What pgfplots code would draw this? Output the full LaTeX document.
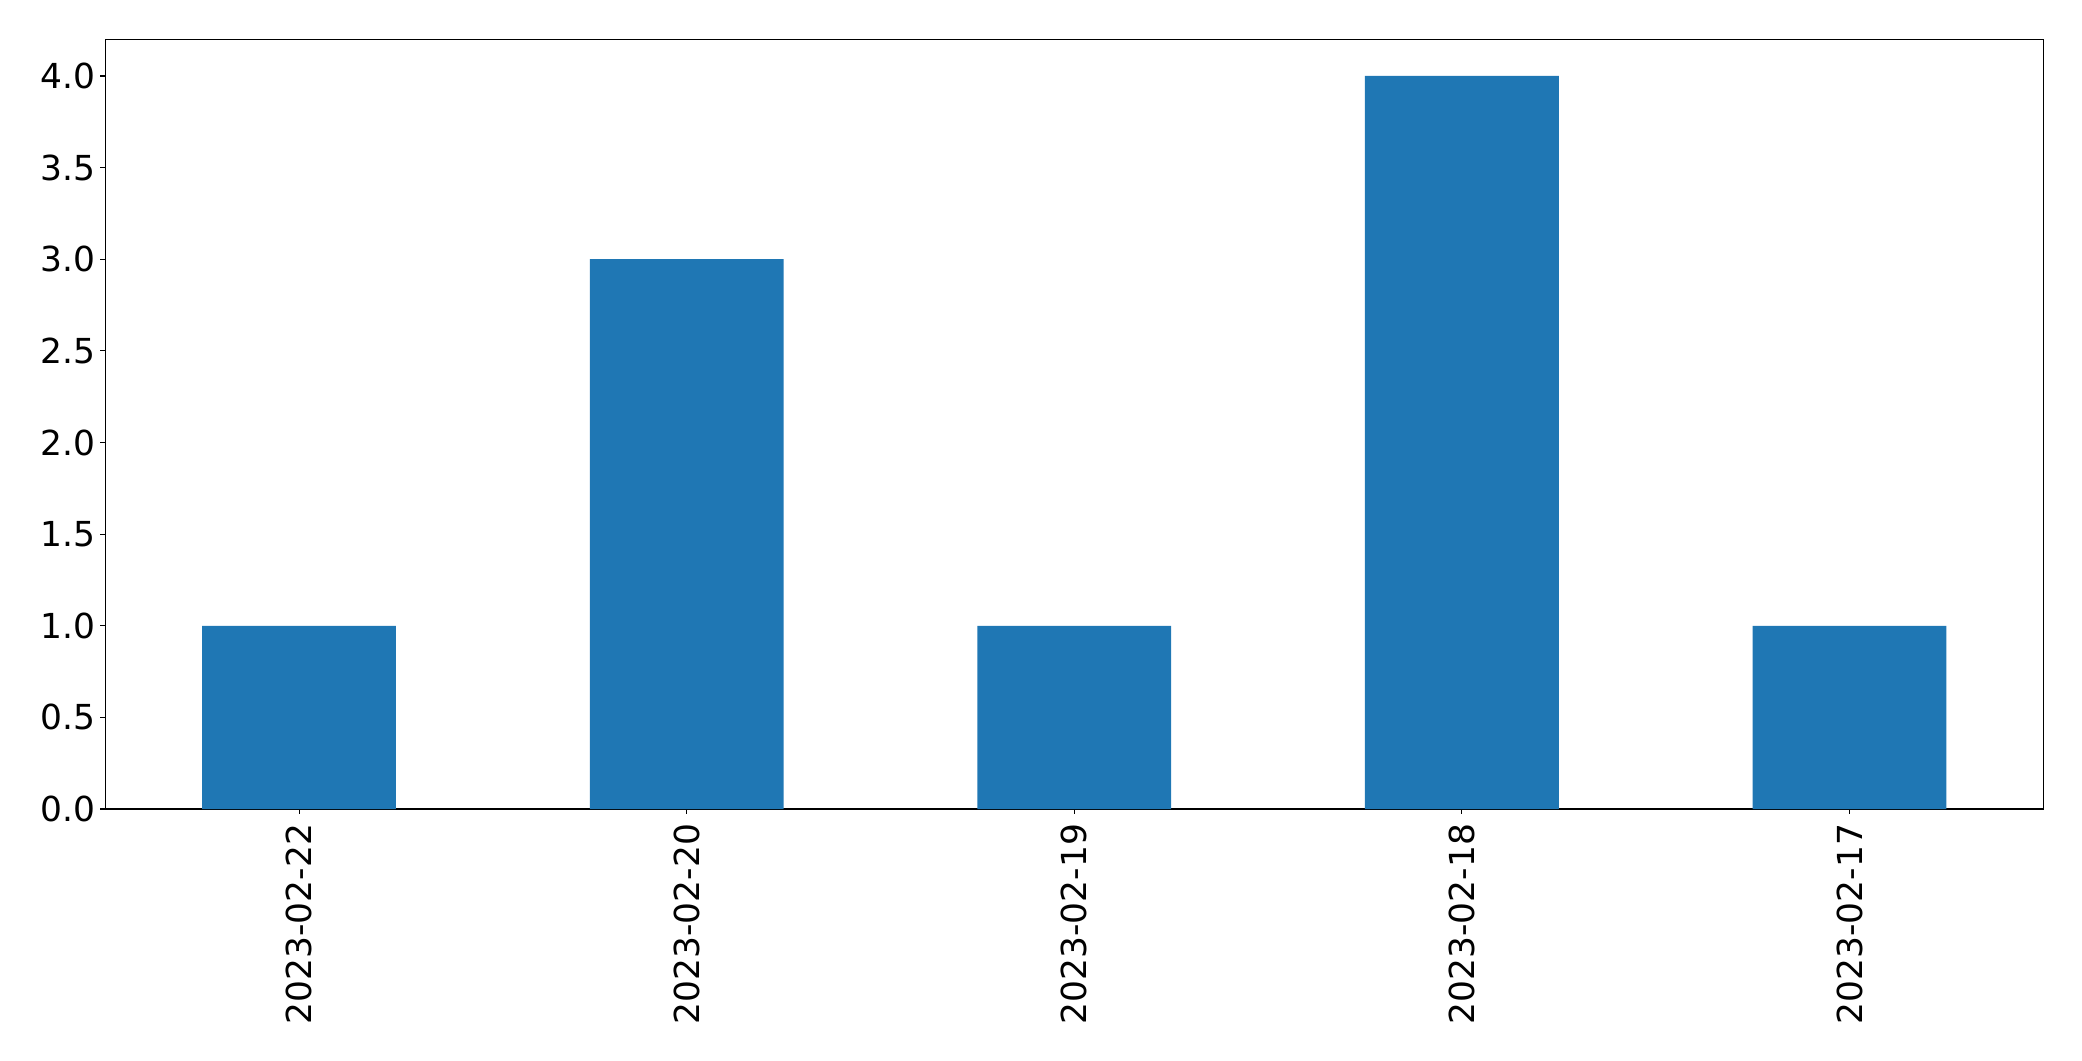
\documentclass[border=0pt]{standalone}
\usepackage{pgfplots}
\pgfplotsset{compat=1.18}
\usepackage{fontspec}
\setmainfont{DejaVu Sans}
\definecolor{tabblue}{HTML}{1F77B4}
\begin{document}
\begin{tikzpicture}
\begin{axis}[
  scale only axis,
  width=1395.4pt, height=554.2pt,
  xmin=-0.5, xmax=4.5, ymin=0, ymax=4.2,
  ybar, bar width=0.5,
  xtick={0,1,2,3,4},
  xticklabels={2023-02-22,2023-02-20,2023-02-19,2023-02-18,2023-02-17},
  ytick={0,0.5,1,1.5,2,2.5,3,3.5,4},
  yticklabel style={/pgf/number format/.cd, fixed, fixed zerofill, precision=1},
  /pgf/number format/assume math mode=true,
  tick align=outside,
  major tick length=3.5pt,
  tick style={line width=0.8pt, black},
  axis line style={line width=0.8pt},
  xtick pos=bottom, ytick pos=left,
  ticklabel style={font=\fontsize{24.8}{30}\selectfont},
  xticklabel style={rotate=90, anchor=east, xshift=-3.5pt},
  every axis/.append style={line width=0.8pt},
]
\addplot[fill=tabblue, draw=none, line width=0pt] coordinates {(0,1) (1,3) (2,1) (3,4) (4,1)};
\end{axis}
\useasboundingbox ([xshift=-75.8pt,yshift=-181.4pt]current axis.south west) rectangle ([xshift=27.9pt,yshift=28.3pt]current axis.north east);
\end{tikzpicture}
\end{document}
